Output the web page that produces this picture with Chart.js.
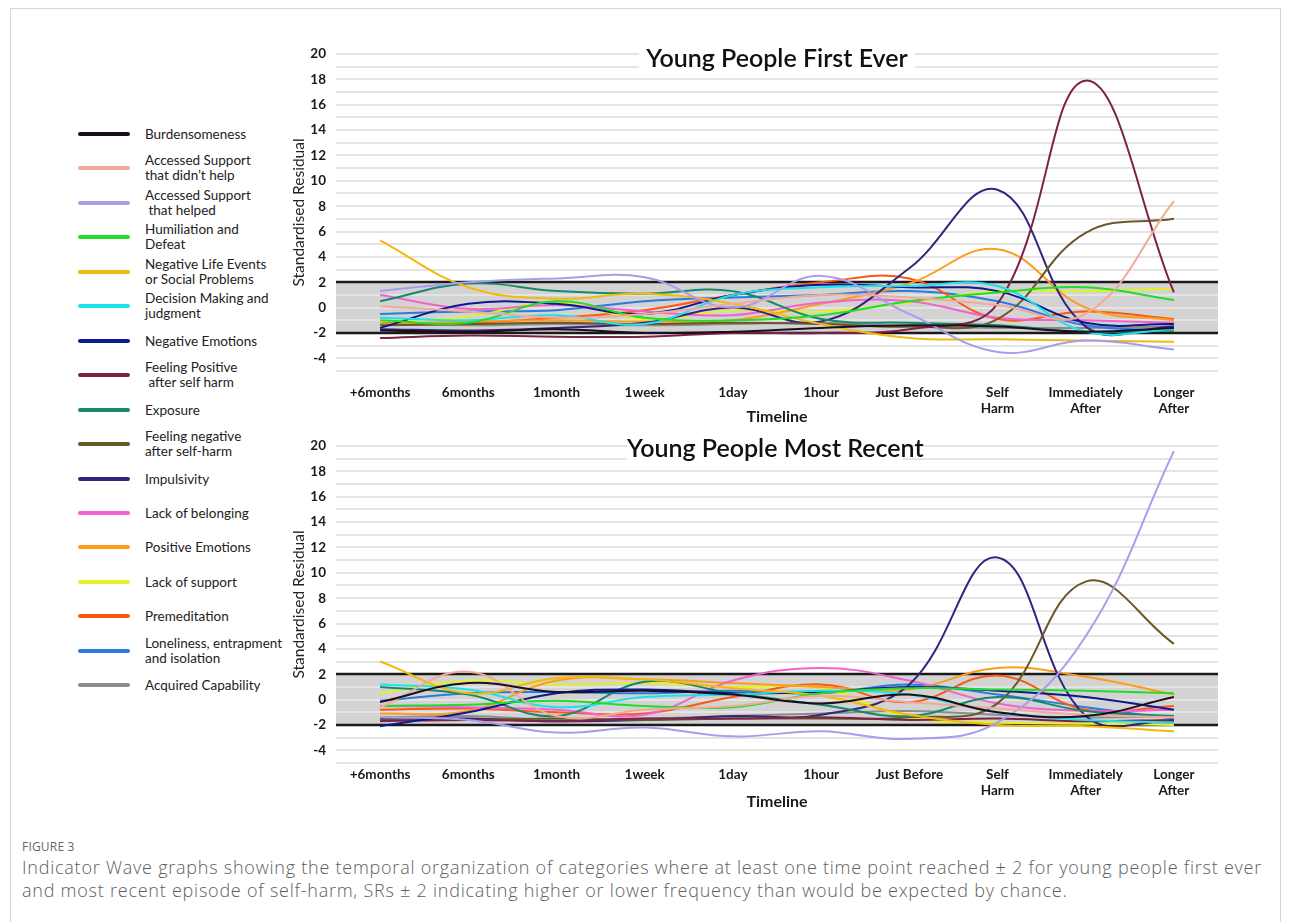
<!DOCTYPE html>
<html>
<head>
<meta charset="utf-8">
<title>Indicator Wave graphs</title>
<script src="https://cdn.jsdelivr.net/npm/chart.js@4.4.1/dist/chart.umd.min.js"></script>
<style>
  html, body { margin: 0; padding: 0; background: #fff; }
  body { width: 1290px; height: 922px; position: relative; overflow: hidden; font-family: "Open Sans", sans-serif; }
  .frame { position: absolute; left: 10px; top: 8px; width: 1269px; height: 940px; border: 1px solid #d6d6d6; }
  .chartBox { position: absolute; }
  .chartTitle { position: absolute; background: #fff; font-family: Lato, sans-serif; font-weight: 600; font-size: 25px;
                color: #111; text-align: center; white-space: nowrap; line-height: 28px; }
  .legSwatch { position: absolute; left: 78px; width: 52px; height: 4px; border-radius: 2px; }
  .legText { position: absolute; left: 145px; font-family: Lato, sans-serif; font-size: 13.5px; line-height: 15px;
             color: #222; white-space: pre; transform: translateY(-50%); }
  .figLabel { position: absolute; left: 22px; top: 838px; font-size: 12px; color: #666; letter-spacing: 0.2px; }
  .capLine { position: absolute; left: 22px; font-size: 18px; line-height: 23px; color: #5e5e5e; font-weight: 300; white-space: nowrap; }
</style>
</head>
<body>
<div class="frame"></div>

<div id="legend"></div>

<div class="chartBox" style="left:285px; top:30px;"><canvas id="firstEver" width="945" height="398"></canvas></div>
<div class="chartTitle" style="left:639px; top:43px; width:276px;">Young People First Ever</div>

<div class="chartBox" style="left:285px; top:420px;"><canvas id="mostRecent" width="945" height="393"></canvas></div>
<div class="chartTitle" style="left:627px; top:433px; width:276px;">Young People Most Recent</div>

<div class="figLabel">FIGURE 3</div>
<div class="capLine" id="cap1" style="top:856px;">Indicator Wave graphs showing the temporal organization of categories where at least one time point reached &plusmn; 2 for young people first ever</div>
<div class="capLine" id="cap2" style="top:879px;">and most recent episode of self-harm, SRs &plusmn; 2 indicating higher or lower frequency than would be expected by chance.</div>

<script>
// Time points along the self-harm timeline
const timePoints = ['+6months', '6months', '1month', '1week', '1day', '1hour', 'Just Before',
                    ['Self', 'Harm'], ['Immediately', 'After'], ['Longer', 'After']];

// Indicator categories (legend text keeps its line breaks)
const categoryNames = [
  'Burdensomeness',
  'Accessed Support\nthat didn\u2019t help',
  'Accessed Support\n that helped',
  'Humiliation and\nDefeat',
  'Negative Life Events\nor Social Problems',
  'Decision Making and\njudgment',
  'Negative Emotions',
  'Feeling Positive\n after self harm',
  'Exposure',
  'Feeling negative\nafter self-harm',
  'Impulsivity',
  'Lack of belonging',
  'Positive Emotions',
  'Lack of support',
  'Premeditation',
  'Loneliness, entrapment\nand isolation',
  'Acquired Capability'
];

// Standardised residuals, first ever episode (one value per time point)
const firstEverBurdensomeness   = [-1.8, -1.9, -1.7, -2.0, -1.9, -1.6, -1.4, -1.5, -1.9, -1.6];
const firstEverSupportNoHelp    = [ 0.1, -0.3, -0.8, -0.5,  0.3,  1.0,  0.8,  0.2, -0.5,  8.4];
const firstEverSupportHelped    = [ 1.3,  2.0,  2.3,  2.4,  0.0,  2.5, -0.5, -3.5, -2.6, -3.3];
const firstEverHumiliation      = [-1.0, -1.2,  0.5, -0.8, -1.0, -0.6,  0.5,  1.2,  1.6,  0.6];
const firstEverLifeEvents       = [ 5.3,  1.6,  0.7,  1.1,  0.3, -1.3, -2.4, -2.5, -2.6, -2.7];
const firstEverDecisionMaking   = [-0.8, -1.0, -0.6, -1.3,  1.0,  1.6,  1.7,  1.7, -1.9, -1.7];
const firstEverNegEmotions      = [-1.6,  0.3,  0.3, -0.5,  1.0,  1.8,  1.6,  1.3, -1.2, -1.3];
const firstEverFeelingPositive  = [-2.4, -2.2, -2.3, -2.3, -2.0, -2.0, -1.7,  0.3, 17.9,  1.2];
const firstEverExposure         = [ 0.5,  1.9,  1.3,  1.1,  1.3, -0.9, -1.2, -1.4, -1.9, -1.8];
const firstEverFeelingNegative  = [-1.4, -1.3, -1.2, -1.3, -1.2, -1.3, -1.5, -0.9,  5.9,  7.0];
const firstEverImpulsivity      = [-1.7, -1.8, -1.6, -1.2,  0.0, -1.1,  3.1,  9.3, -1.5, -1.5];
const firstEverBelonging        = [ 1.0, -0.1,  0.2, -0.3, -0.6,  0.4,  0.5, -0.8, -1.0, -1.2];
const firstEverPosEmotions      = [-1.3, -1.1, -1.0, -1.1, -1.0,  0.3,  1.9,  4.6,  0.0, -1.0];
const firstEverLackSupport      = [-1.1, -0.7,  0.4, -0.9, -0.2, -0.3,  0.4,  1.3,  1.3,  1.5];
const firstEverPremeditation    = [-1.3, -1.2, -0.8, -0.2,  1.0,  2.0,  2.3, -0.9, -0.3, -0.9];
const firstEverLoneliness       = [-0.5, -0.3, -0.2,  0.5,  0.8,  1.0,  1.3,  0.5, -1.4, -1.8];
const firstEverCapability       = [-1.2, -1.4, -1.3, -1.4, -1.3, -1.2, -1.5, -1.6, -1.6, -1.5];

// Standardised residuals, most recent episode
const mostRecentBurdensomeness  = [-0.2,  1.3,  0.6,  0.7,  0.4, -0.3,  0.4, -1.0, -1.3,  0.2];
const mostRecentSupportNoHelp   = [-0.6,  2.2, -1.3, -0.8, -0.5,  0.3, -0.2, -0.7, -1.2, -1.4];
const mostRecentSupportHelped   = [-1.4, -1.6, -2.6, -2.2, -2.9, -2.5, -3.1, -1.8,  5.0, 19.6];
const mostRecentHumiliation     = [-0.5, -0.4, -0.1, -0.5, -0.6,  0.5,  0.9,  0.8,  0.7,  0.5];
const mostRecentLifeEvents      = [ 3.0,  0.5,  1.7,  1.6,  0.9,  0.3, -1.2, -2.0, -2.1, -2.5];
const mostRecentDecisionMaking  = [ 1.2,  0.8, -0.6,  0.2,  0.4,  0.7,  0.4, -1.0, -1.6, -1.8];
const mostRecentNegEmotions     = [-2.1, -1.0,  0.5,  0.8,  0.5,  0.6,  1.0,  0.7,  0.2, -0.8];
const mostRecentFeelingPositive = [-1.7, -1.6, -1.7, -1.5, -1.5, -1.4, -1.6, -1.5, -1.7, -1.6];
const mostRecentExposure        = [ 1.0,  0.4, -1.3,  1.4,  0.5, -0.4, -1.3,  0.2, -0.9, -1.3];
const mostRecentFeelingNegative = [-1.6, -1.6, -1.5, -1.6, -1.5, -1.5, -1.4, -0.3,  9.3,  4.4];
const mostRecentImpulsivity     = [-1.5, -1.5, -1.7, -1.6, -1.3, -1.2,  1.2, 11.2, -1.3, -1.7];
const mostRecentBelonging       = [-0.5, -0.6, -0.8, -1.2,  1.5,  2.5,  1.5, -0.3, -0.9, -0.8];
const mostRecentPosEmotions     = [-1.1, -0.9,  1.5,  1.6,  1.3,  1.0,  0.8,  2.5,  1.8,  0.4];
const mostRecentLackSupport     = [ 0.5,  1.5,  1.2,  1.3,  1.0,  0.9, -1.4, -1.8, -1.9, -2.0];
const mostRecentPremeditation   = [-0.8, -0.7, -1.0, -1.1,  0.2,  1.2, -0.2,  1.9, -0.8, -0.5];
const mostRecentLoneliness      = [-0.1,  0.5,  0.6,  0.5,  0.7,  0.5,  1.2,  0.4, -0.6, -1.5];
const mostRecentCapability      = [-1.4, -1.3, -1.6, -1.5, -1.3, -1.1, -0.9, -1.2, -1.4, -1.3];

// Labelled ticks on the residual axis and the ±2 significance band
const residualTickLabels = [20, 18, 16, 14, 12, 10, 8, 6, 4, 2, 0, -2, -4];
const significanceBand = [-2, 2];

const firstEverSeries = [
  firstEverBurdensomeness, firstEverSupportNoHelp, firstEverSupportHelped, firstEverHumiliation,
  firstEverLifeEvents, firstEverDecisionMaking, firstEverNegEmotions, firstEverFeelingPositive,
  firstEverExposure, firstEverFeelingNegative, firstEverImpulsivity, firstEverBelonging,
  firstEverPosEmotions, firstEverLackSupport, firstEverPremeditation, firstEverLoneliness, firstEverCapability
];
const mostRecentSeries = [
  mostRecentBurdensomeness, mostRecentSupportNoHelp, mostRecentSupportHelped, mostRecentHumiliation,
  mostRecentLifeEvents, mostRecentDecisionMaking, mostRecentNegEmotions, mostRecentFeelingPositive,
  mostRecentExposure, mostRecentFeelingNegative, mostRecentImpulsivity, mostRecentBelonging,
  mostRecentPosEmotions, mostRecentLackSupport, mostRecentPremeditation, mostRecentLoneliness, mostRecentCapability
];

// Line colours per category
const categoryColors = [
  '#1c0d1f', '#f2aa98', '#a99cee', '#21dc2a', '#f4b90c', '#1ce3ea', '#0c1a8e', '#7c2148', '#14896b',
  '#6a5828', '#33247e', '#f262cf', '#ff9b1c', '#e2f227', '#ff5612', '#2a7be0', '#8c8c8c'
];

// ---- legend ----
const legend = document.getElementById('legend');
categoryNames.forEach((name, i) => {
  const cy = 134 + i * 34.45;
  const sw = document.createElement('div');
  sw.className = 'legSwatch';
  sw.style.top = (cy - 2) + 'px';
  sw.style.background = categoryColors[i];
  legend.appendChild(sw);
  const tx = document.createElement('div');
  tx.className = 'legText';
  tx.style.top = cy + 'px';
  tx.textContent = name;
  legend.appendChild(tx);
});

// ---- caption: spread the first line across the frame, same spacing for the second ----
(function fitCaption() {
  const l1 = document.getElementById('cap1');
  const l2 = document.getElementById('cap2');
  const target = 1240;
  const natural = l1.getBoundingClientRect().width;
  const chars = l1.textContent.length;
  const spacing = (target - natural) / chars;
  l1.style.letterSpacing = spacing + 'px';
  l2.style.letterSpacing = spacing + 'px';
})();

// ---- grey ±2 band with black boundary lines ----
const bandPlugin = {
  id: 'significanceBand',
  beforeDraw(chart) {
    const { ctx, chartArea: { left, right }, scales: { y } } = chart;
    const top = y.getPixelForValue(significanceBand[1]);
    const bottom = y.getPixelForValue(significanceBand[0]);
    ctx.save();
    ctx.fillStyle = '#d3d3d3';
    ctx.fillRect(left, top, right - left, bottom - top);
    ctx.restore();
  },
  beforeDatasetsDraw(chart) {
    const { ctx, chartArea: { left, right }, scales: { y } } = chart;
    ctx.save();
    ctx.strokeStyle = '#1a1a1a';
    ctx.lineWidth = 2.5;
    significanceBand.forEach(v => {
      const py = Math.round(y.getPixelForValue(v));
      ctx.beginPath();
      ctx.moveTo(left, py);
      ctx.lineTo(right, py);
      ctx.stroke();
    });
    ctx.restore();
  }
};

function buildChart(canvasId, series, layoutTop, tickPad, xAxisHeight) {
  const datasets = series.map((values, i) => ({
    label: categoryNames[i].replace('\n', ' '),
    data: values,
    borderColor: categoryColors[i],
    backgroundColor: categoryColors[i],
    borderWidth: 2,
    pointRadius: 0,
    tension: 0.4,
    fill: false
  }));
  return new Chart(document.getElementById(canvasId), {
    type: 'line',
    data: { labels: timePoints, datasets },
    options: {
      responsive: false,
      animation: false,
      devicePixelRatio: 1,
      layout: { padding: { top: layoutTop, right: 12, left: 0, bottom: 0 } },
      plugins: { legend: { display: false }, tooltip: { enabled: false } },
      scales: {
        x: {
          offset: true,
          grid: { display: false, drawTicks: false },
          border: { display: false },
          ticks: { padding: tickPad, color: '#1a1a1a', maxRotation: 0, autoSkip: false,
                   font: { family: 'Lato', weight: 'bold', size: 13.5, lineHeight: 1.15 } },
          title: { display: true, text: 'Timeline', color: '#1a1a1a', padding: { top: 0, bottom: 2 },
                   font: { family: 'Lato', weight: 'bold', size: 16 } },
          afterFit: s => { s.height = xAxisHeight; }
        },
        y: {
          min: -5, max: 20,
          grid: { color: '#e4e4e4', lineWidth: 2, drawTicks: false },
          border: { display: false },
          ticks: {
            stepSize: 1, padding: 10, color: '#1a1a1a', autoSkip: false,
            font: { family: 'Lato', weight: 'bold', size: 13.5 },
            callback: v => residualTickLabels.includes(v) ? String(v) : ''
          },
          title: { display: true, text: 'Standardised Residual', color: '#222', padding: { top: 5, bottom: 0 },
                   font: { family: 'Lato', size: 15.5 } },
          afterFit: s => { s.width = 51; }
        }
      }
    },
    plugins: [bandPlugin]
  });
}

buildChart('firstEver', firstEverSeries, 24, 14, 57);
buildChart('mostRecent', mostRecentSeries, 26, 4, 50);
</script>
</body>
</html>
